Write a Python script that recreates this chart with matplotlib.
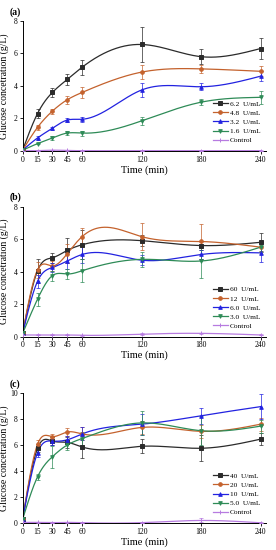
import numpy as np
import matplotlib
matplotlib.use("Agg")
import matplotlib.pyplot as plt

plt.rcParams['font.family'] = ['Liberation Serif', 'DejaVu Serif']

time = [0, 15, 30, 45, 60, 120, 180, 240]
xtick_labels = ['0', '15', '30', '45', '60', '120', '180', '240']

# Panel (a)
a_labels = ['6.2  U/mL', '4.8  U/mL', '3.2  U/mL', '1.6  U/mL', 'Control']
a_vals = [
    [0.05, 2.3, 3.6, 4.4, 5.15, 6.55, 5.8, 6.3],
    [0.05, 1.45, 2.45, 3.15, 3.6, 4.85, 5.05, 4.9],
    [0.05, 0.8, 1.4, 1.9, 1.95, 3.75, 3.95, 4.6],
    [0.05, 0.45, 0.8, 1.1, 1.1, 1.85, 3.0, 3.3],
    [0.02, 0.02, 0.05, 0.03, 0.02, 0.02, 0.02, 0.02],
]
a_err = [
    [0, 0.3, 0.25, 0.35, 0.45, 1.1, 0.45, 0.65],
    [0, 0.15, 0.15, 0.25, 0.35, 0.45, 0.25, 0.3],
    [0, 0.1, 0.1, 0.1, 0.15, 0.45, 0.2, 0.3],
    [0, 0.05, 0.1, 0.1, 0.15, 0.25, 0.2, 0.4],
    [0, 0.02, 0.02, 0.02, 0.02, 0.02, 0.02, 0.02],
]

# Panel (b)
b_labels = ['60  U/mL', '12  U/mL', '6.0  U/mL', '3.0  U/mL', 'Control']
b_vals = [
    [0.2, 4.05, 4.85, 5.3, 5.65, 5.9, 5.6, 5.8],
    [0.2, 4.1, 4.35, 5.1, 6.15, 6.15, 5.85, 5.5],
    [0.2, 3.4, 4.25, 4.65, 5.05, 4.7, 5.05, 5.15],
    [0.2, 2.3, 3.75, 3.85, 4.05, 4.75, 4.65, 5.5],
    [0.1, 0.1, 0.1, 0.1, 0.08, 0.15, 0.2, 0.1],
]
b_err = [
    [0, 0.75, 0.3, 0.75, 0.9, 0.35, 0.3, 0.55],
    [0, 0.5, 0.3, 0.6, 0.5, 0.85, 1.1, 0.3],
    [0, 0.4, 0.3, 0.5, 0.5, 0.3, 0.3, 0.55],
    [0, 0.4, 0.3, 0.3, 0.7, 0.45, 1.05, 0.3],
    [0, 0.03, 0.03, 0.03, 0.03, 0.05, 0.05, 0.03],
]

# Panel (c)
c_labels = ['40  U/mL', '20  U/mL', '10  U/mL', '5.0  U/mL', 'Control']
c_vals = [
    [0.3, 5.75, 6.3, 6.2, 5.85, 5.9, 5.75, 6.45],
    [0.3, 6.05, 6.65, 7.0, 6.85, 7.35, 7.05, 7.6],
    [0.3, 5.4, 6.3, 6.4, 6.85, 7.6, 8.25, 8.95],
    [0.3, 3.55, 5.1, 6.0, 6.5, 7.7, 7.1, 7.45],
    [0.05, 0.05, 0.03, 0.05, 0.03, 0.03, 0.2, 0.02],
]
c_err = [
    [0, 0.3, 0.3, 0.4, 0.85, 0.55, 1.0, 0.45],
    [0, 0.3, 0.2, 0.3, 0.5, 0.5, 0.5, 0.5],
    [0, 0.3, 0.3, 0.3, 0.5, 0.8, 0.6, 0.95],
    [0, 0.25, 0.85, 0.4, 0.5, 0.9, 1.1, 0.5],
    [0, 0.03, 0.03, 0.03, 0.03, 0.03, 0.15, 0.03],
]

colors = ['#2b2b2b', '#c4622d', '#2222e0', '#2e8b57', '#b77be0']
markers = ['s', 'o', '^', 'v', '+']


def natural_spline(x, y, xs):
    x = np.asarray(x, float)
    y = np.asarray(y, float)
    n = len(x)
    h = np.diff(x)
    A = np.zeros((n, n))
    r = np.zeros(n)
    A[0, 0] = 1
    A[-1, -1] = 1
    for i in range(1, n - 1):
        A[i, i - 1] = h[i - 1]
        A[i, i] = 2 * (h[i - 1] + h[i])
        A[i, i + 1] = h[i]
        r[i] = 6 * ((y[i + 1] - y[i]) / h[i] - (y[i] - y[i - 1]) / h[i - 1])
    M = np.linalg.solve(A, r)
    idx = np.clip(np.searchsorted(x, xs) - 1, 0, n - 2)
    x0, x1 = x[idx], x[idx + 1]
    hh = x1 - x0
    t0 = x1 - xs
    t1 = xs - x0
    return (M[idx] * t0 ** 3 / (6 * hh) + M[idx + 1] * t1 ** 3 / (6 * hh)
            + (y[idx] / hh - M[idx] * hh / 6) * t0
            + (y[idx + 1] / hh - M[idx + 1] * hh / 6) * t1)


fig = plt.figure(figsize=(2.76, 5.5), dpi=100)
panels = [
    ('(a)', a_labels, a_vals, a_err, 8, [0, 2, 4, 6, 8], 0.7255),
    ('(b)', b_labels, b_vals, b_err, 8, [0, 2, 4, 6, 8], 0.388),
    ('(c)', c_labels, c_vals, c_err, 10, [0, 2, 4, 6, 8, 10], 0.049),
]
xs = np.linspace(0, 240, 400)
for tag, labels, vals, errs, ymax, yticks, bottom in panels:
    ax = fig.add_axes([0.082, bottom, 0.88, 0.2365])
    handles = []
    for i in range(len(labels)):
        ys = natural_spline(time, vals[i], xs)
        ax.plot(xs, ys, color=colors[i], lw=0.9, zorder=2)
        ax.errorbar(time, vals[i], yerr=errs[i], fmt='none', ecolor=colors[i],
                    elinewidth=0.5, capsize=1.2, capthick=0.5, zorder=3)
        ms = 3.5 if markers[i] == '+' else 2.6
        ax.plot(time, vals[i], linestyle='none', marker=markers[i], ms=ms,
                color=colors[i], mew=0.7, zorder=4)
        h, = ax.plot([], [], color=colors[i], lw=0.9, marker=markers[i], ms=ms, mew=0.7)
        handles.append(h)
    ax.set_xlim(0, 245)
    ax.set_ylim(0, ymax)
    ax.set_xticks(time)
    ax.set_xticklabels(xtick_labels)
    ax.set_yticks(yticks)
    ax.tick_params(labelsize=5.5, length=2, width=0.6, pad=1.5)
    for s in ['top', 'right']:
        ax.spines[s].set_visible(False)
    for s in ['left', 'bottom']:
        ax.spines[s].set_linewidth(0.7)
    ax.set_xlabel('Time (min)', fontsize=7.5, labelpad=1)
    ax.set_ylabel('Glucose concetration (g/L)', fontsize=7)
    ax.yaxis.set_label_coords(-0.055, 0.5)
    ax.text(-0.03, 1.07, tag, transform=ax.transAxes, fontsize=7,
            fontweight='bold', ha='center', va='center')
    ax.legend(handles, labels, loc='lower right', bbox_to_anchor=(1.0, 0.02),
              fontsize=5.3, frameon=False, handlelength=2.0, handletextpad=0.3,
              labelspacing=0.4, borderaxespad=0.3)

fig.savefig('out.png', dpi=100)
